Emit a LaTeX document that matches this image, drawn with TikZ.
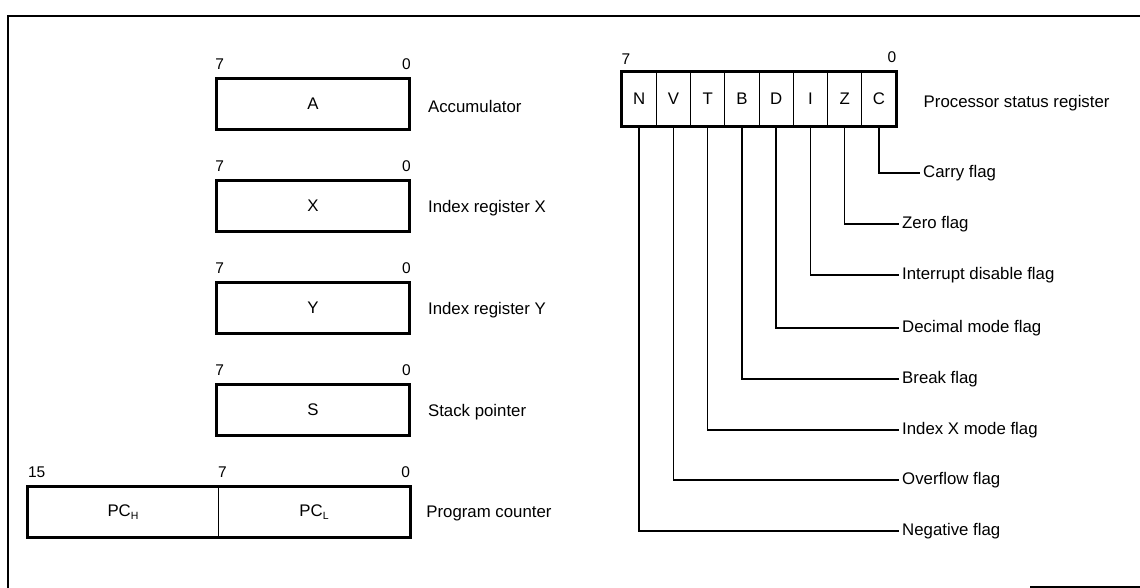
\documentclass[tikz,border=0pt]{standalone}
\usepackage{fontspec}
\setmainfont{Liberation Sans}
\newcommand\lblfont{\fontsize{16.8}{19}\selectfont}
\newcommand\bitfont{\fontsize{15.5}{18}\selectfont}
\newcommand\subfont{\fontsize{10.5}{10.5}\selectfont}
\tikzset{
  regbox/.style={draw, line width=2.8pt, minimum width=193pt, minimum height=51pt, inner sep=0pt, font=\lblfont},
  plainbox/.style={minimum height=51pt, inner sep=0pt, font=\lblfont},
  thickframe/.style={line width=2.8pt},
  cell/.style={draw, line width=1pt, minimum width=34.25pt, minimum height=54pt, inner sep=0pt, font=\lblfont},
  bitnum/.style={font=\bitfont, inner sep=0pt},
  reglabel/.style={anchor=west, font=\lblfont, inner sep=0pt},
  flaglabel/.style={anchor=west, font=\lblfont, inner xsep=3pt, inner ysep=0pt},
  leader/.style={line width=1.3pt},
  border/.style={line width=2.5pt}
}
\begin{document}
\begin{tikzpicture}[x=1pt, y=-1pt]
\useasboundingbox (0,0) rectangle (1140,588);
% outer frame
\coordinate (fbl) at (8,588);
\coordinate (ftl) at (8,16);
\coordinate (ftr) at (1140,16);
\coordinate (fb1) at (1030,587);
\coordinate (fb2) at (1140,587);
\draw[border] (fbl) -- (ftl) -- (ftr);
\draw[line width=2pt] (fb1) -- (fb2);

% 8-bit registers
\foreach \nm/\letter/\cy/\txt in {ra/A/104/Accumulator, rx/X/206/Index register X, ry/Y/308/Index register Y, rs/S/410/Stack pointer}{
  \node[regbox] (\nm) at (313,\cy) {\letter};
  \node[bitnum, anchor=base west] (\nm7) at ([yshift=8pt]\nm.north west) {7};
  \node[bitnum, anchor=base east] (\nm0) at ([yshift=8pt]\nm.north east) {0};
  \node[reglabel] (\nm l) at ([xshift=17pt,yshift=-2pt]\nm.east) {\txt};
}

% program counter
\node[plainbox, minimum width=190pt] (pch) at (123,512) {PC\raisebox{-2.5pt}{\subfont H}};
\node[plainbox, minimum width=192pt] (pcl) at (314,512) {PC\raisebox{-2.5pt}{\subfont L}};
\draw[thickframe] (pch.north west) rectangle (pcl.south east);
\draw[line width=1pt] (pch.north east) -- (pch.south east);
\node[bitnum, anchor=base west] (pc15) at ([yshift=9pt]pch.north west) {15};
\node[bitnum, anchor=base west] (pc7) at ([yshift=9pt]pcl.north west) {7};
\node[bitnum, anchor=base east] (pc0) at ([yshift=9pt]pcl.north east) {0};
\node[reglabel] (pcl l) at ([xshift=16pt,yshift=-1pt]pcl.east) {Program counter};

% processor status register
\foreach \i/\f in {1/N,2/V,3/T,4/B,5/D,6/I,7/Z,8/C}{
  \node[cell] (c\f) at ({622+34.25*(\i-0.5)},99) {\f};
}
\draw[thickframe] (cN.north west) rectangle (cC.south east);
\node[bitnum, anchor=base west] (p7) at ([yshift=7pt]cN.north west) {7};
\node[bitnum, anchor=base east] (p0) at ([yshift=9pt]cC.north east) {0};
\node[reglabel] (psr) at ([xshift=27pt,yshift=-4pt]cC.east) {Processor status register};

% flag labels and leaders
\node[flaglabel] (lC) at (920,173) {Carry flag};
\foreach \f/\y/\txt in {Z/224/Zero flag, I/275/Interrupt disable flag, D/328/Decimal mode flag, B/379/Break flag, T/430/Index X mode flag, V/480/Overflow flag, N/531/Negative flag}{
  \node[flaglabel] (l\f) at (899,\y) {\txt};
}
\foreach \f in {C,Z,I,D,B,T,V,N}{
  \draw[leader] (c\f.south) |- (l\f.west);
}
\end{tikzpicture}
\end{document}
